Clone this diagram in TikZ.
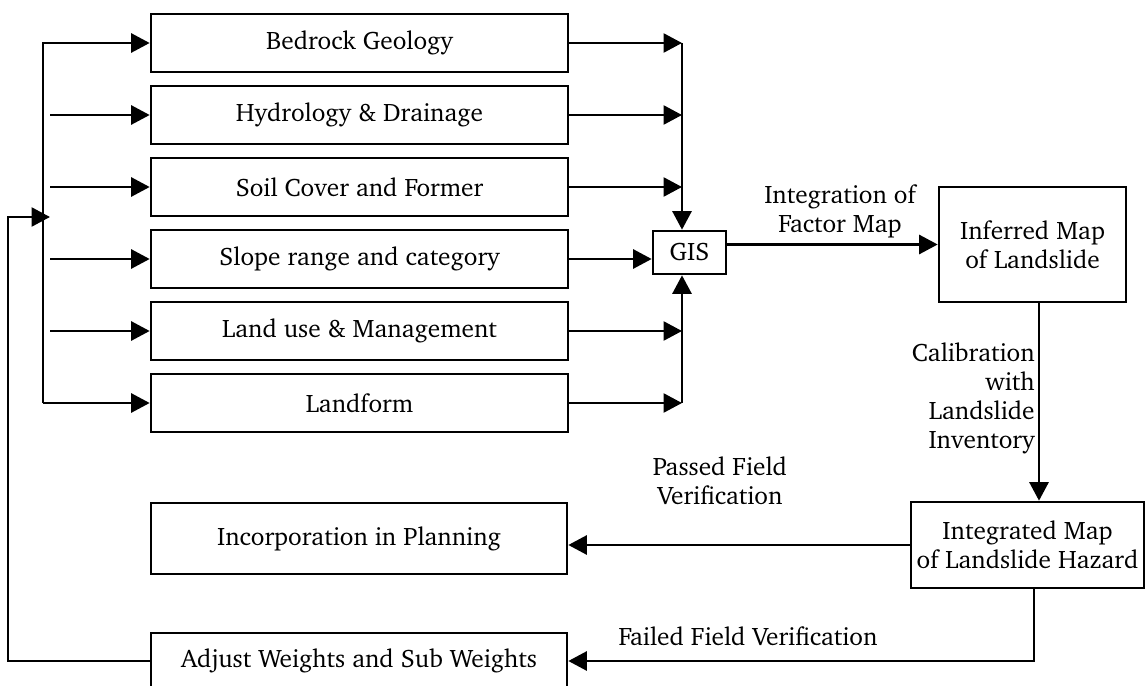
\documentclass[tikz,border=0pt]{standalone}
\usepackage[T1]{fontenc}
\usepackage{charter}
\usepackage{tikz}
\usetikzlibrary{arrows.meta,positioning}
\tikzstyle{line} = [draw, line width=1.5pt, -{Triangle[length=0.37cm,width=0.38cm]}]
\tikzstyle{plain} = [draw, line width=1.5pt]
\tikzstyle{factor} = [draw, line width=1.5pt, minimum width=8.34cm, minimum height=1.16cm, inner sep=0pt]
\tikzstyle{box} = [draw, line width=1.5pt, align=center, inner sep=0pt]

\begin{document}
\begin{tikzpicture}[font=\fontsize{14.4}{16.5}\selectfont]
		\useasboundingbox (0,0) rectangle (22.9,-13.72); % fixes the margins
		
		% factor maps, top to bottom
		\foreach \nm/\txt [count=\i from 0] in {geo/Bedrock Geology, hyd/Hydrology \& Drainage, soil/Soil Cover and Former, slope/Slope range and category, land/Land use \& Management, form/Landform}
		{ \node[factor] (\nm) at (7.19,{-0.86-1.44*\i}) {\txt}; }
		
		\node[box, minimum width=1.46cm, minimum height=0.86cm] (gis) at (13.79,-5.05) {GIS}; % GIS
		\node[box, minimum width=3.74cm, minimum height=2.30cm] (inf) at (20.65,-4.89) {Inferred Map\\of Landslide};
		\node[box, minimum width=4.66cm, minimum height=1.72cm] (integ) at (20.55,-10.9) {Integrated Map\\of Landslide Hazard};
		\node[box, minimum width=8.32cm, minimum height=1.42cm] (inc) at (7.18,-10.77) {Incorporation in Planning};
		\node[box, minimum width=8.32cm, minimum height=1.12cm] (adj) at (7.18,-13.22) {Adjust Weights and Sub Weights};
		
		\coordinate (lb) at (0.86,0); % left bus
		\coordinate (rb) at (13.64,0); % right bus
		\coordinate (fb) at (0.16,0); % feedback line
		\coordinate (fbin) at (1.0,-4.34); % feedback into left bus
		\coordinate (cal) at (20.78,0); % calibration line
		\coordinate (fail) at (20.68,0); % failed line
		
		% left bus into the factor maps
		\draw[line] (lb |- form.west) -- (lb |- geo.west) -- (geo.west);
		\draw[line] (lb |- form.west) -- (form.west);
		\foreach \nm in {hyd,soil,slope,land}
		{ \draw[line] ([xshift=0.14cm]lb |- \nm.west) -- (\nm.west); }
		
		% factor maps into GIS
		\foreach \nm in {geo,hyd,soil,land,form}
		{ \draw[line] (\nm.east) -- (rb |- \nm.east); }
		\draw[line] (rb |- geo.east) -- (rb |- gis.north);
		\draw[line] (rb |- form.east) -- (rb |- gis.south);
		\draw[line] (slope.east) -- (slope.east -| gis.west);
		
		% GIS to inferred map
		\draw[line] (gis.east |- inf.west) -- (inf.west);
		\node[align=center] (intlbl) at (16.8,-4.22) {Integration of\\Factor Map};
		
		% calibration
		\draw[line] (cal |- inf.south) -- (cal |- integ.north);
		\node[align=right, anchor=east, inner sep=0pt] (callbl) at (20.7,-7.96) {Calibration\\with\\Landslide\\Inventory};
		
		% field verification
		\draw[line] (integ.west) -- (integ.west -| inc.east);
		\node[align=center] (paslbl) at (14.4,-9.62) {Passed Field\\Verification};
		\draw[line] (fail |- integ.south) |- (adj.east);
		\node (faillbl) at (14.96,-12.72) {Failed Field Verification};
		
		% feedback loop
		\draw[line] (adj.west) -| (fb |- fbin) -- (fbin);
		
\end{tikzpicture}
\end{document}
